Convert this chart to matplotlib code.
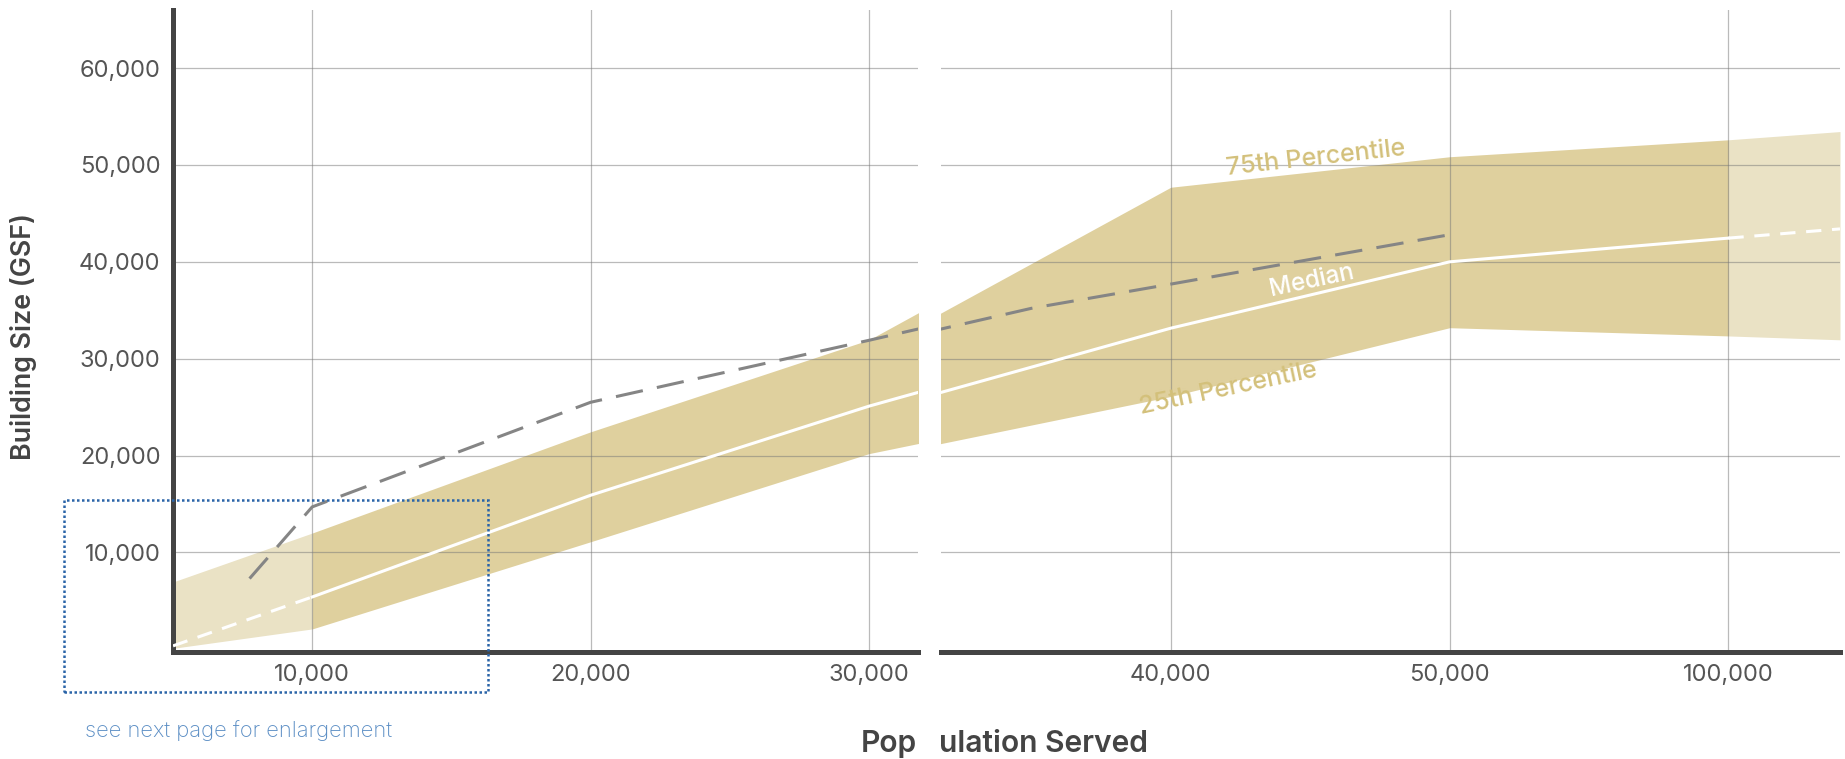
import matplotlib
matplotlib.use("Agg")
import matplotlib.pyplot as plt
from matplotlib.patches import Rectangle

plt.rcParams['font.family'] = ['Inter', 'DejaVu Sans']

# x positions are ordinal slots, one per tick label
tick_pos = [1, 2, 3, 4, 5, 6]
tick_labels = ['10,000', '20,000', '30,000', '40,000', '50,000', '100,000']

band_x = [0.5, 1, 2, 3, 4, 5, 6, 6.4]
p75 = [6950, 12000, 22450, 31950, 47700, 50850, 52600, 53450]
p25 = [100, 2100, 11100, 20200, 26100, 33200, 32350, 31950]
median = [350, 5400, 15900, 25100, 33150, 40000, 42450, 43400]

comp_x = [0.775, 1, 2, 3, 3.5, 4, 5]
comp_y = [7300, 14700, 25500, 31900, 35200, 37700, 42800]

y_ticks = [10000, 20000, 30000, 40000, 50000, 60000]

dark = '#DFD09E'
light = '#EAE2C5'
tan_txt = '#D3C07A'
axis_col = '#444444'

fig = plt.figure(figsize=(18.45, 7.59), dpi=100)
b = 1 - 651.7 / 759
h = (651.7 - 10) / 759
ax1 = fig.add_axes([173 / 1845, b, (918 - 173) / 1845, h])
ax2 = fig.add_axes([941 / 1845, b, (1840 - 941) / 1845, h])

for ax in (ax1, ax2):
    # extrapolated ends light, measured range darker
    ax.fill_between(band_x[0:2], p25[0:2], p75[0:2], color=light, lw=0, zorder=1)
    ax.fill_between(band_x[1:7], p25[1:7], p75[1:7], color=dark, lw=0, zorder=1)
    ax.fill_between(band_x[6:8], p25[6:8], p75[6:8], color=light, lw=0, zorder=1)

    ax.plot(band_x[1:7], median[1:7], color='white', lw=2.2, zorder=3)
    ax.plot(band_x[0:2], median[0:2], color='white', lw=2.2, ls=(0, (5, 3.5)), zorder=3)
    ax.plot(band_x[6:8], median[6:8], color='white', lw=2.2, ls=(0, (5, 3.5)), zorder=3)

    ax.plot(comp_x, comp_y, color='#858585', lw=2.2, ls=(0, (9, 4.7)), zorder=3)

    ax.set_ylim(-250, 66000)
    ax.set_axisbelow('line')
    ax.grid(True, color='#777777', alpha=0.5, lw=0.9)
    ax.set_xticks(tick_pos)
    ax.set_xticklabels(tick_labels)
    ax.set_yticks(y_ticks)
    ax.tick_params(length=0, labelsize=17, labelcolor='#555555', pad=9)
    for s in ('top', 'right', 'left'):
        ax.spines[s].set_visible(False)
    ax.spines['bottom'].set_linewidth(3.6)
    ax.spines['bottom'].set_color(axis_col)

ax1.set_xlim(0.5, 3.176)
ax2.set_xlim(3.176, 6.40)
ax1.spines['left'].set_visible(True)
ax1.spines['left'].set_linewidth(3.6)
ax1.spines['left'].set_color(axis_col)
ax1.set_yticklabels([f'{v:,}' for v in y_ticks])
ax2.tick_params(axis='y', labelleft=False)

# band labels
ax2.text(4.52, 50630, '75th Percentile', color=tan_txt, fontsize=18, fontweight='medium',
         rotation=6.4, ha='center', va='center', rotation_mode='anchor')
ax2.text(4.506, 38030, 'Median', color='white', fontsize=17.5, fontweight='medium',
         rotation=12, ha='center', va='center', rotation_mode='anchor')
ax2.text(4.205, 26870, '25th Percentile', color=tan_txt, fontsize=18, fontweight='medium',
         rotation=12, ha='center', va='center', rotation_mode='anchor')

# enlargement box
ax1.add_patch(Rectangle((0.109, -4410), 1.633 - 0.109, 15410 + 4410, fill=False,
                        edgecolor='#2A64A8', lw=1.8, ls=(0, (1, 1)), clip_on=False, zorder=4))
fig.text(85 / 1845, 1 - 731 / 759, 'see next page for enlargement', color='#5A8DC4',
         fontsize=15.8, fontweight='light', ha='left', va='center')

fig.text(23.5 / 1845, 1 - 336 / 759, 'Building Size (GSF)', rotation=90, color=axis_col,
         fontsize=19.3, fontweight='semibold', ha='center', va='center')
fig.text(917 / 1845, 1 - 751.7 / 759, 'Pop', color=axis_col, fontsize=21.6,
         fontweight='semibold', ha='right', va='baseline')
fig.text(939 / 1845, 1 - 751.7 / 759, 'ulation Served', color=axis_col, fontsize=21.6,
         fontweight='semibold', ha='left', va='baseline')

fig.savefig('out.png', dpi=100)
